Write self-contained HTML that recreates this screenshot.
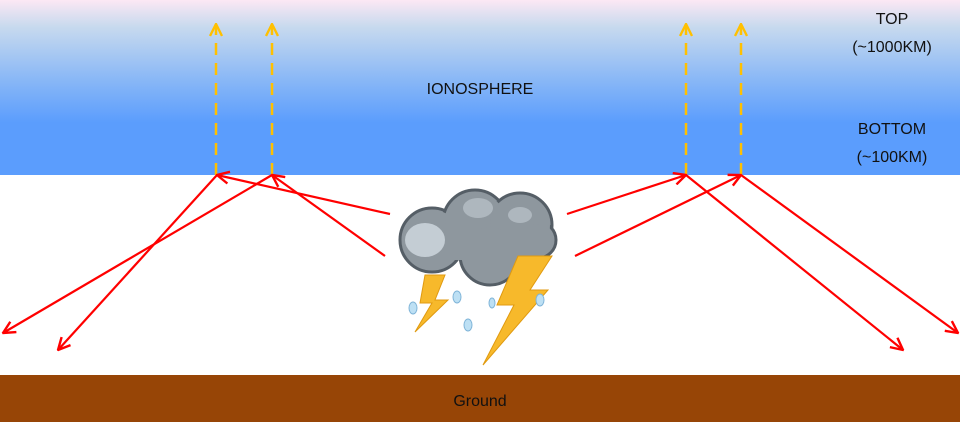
<!DOCTYPE html>
<html><head><style>
body{margin:0;width:960px;height:422px;overflow:hidden;background:#fff;font-family:"Liberation Sans",sans-serif}
</style></head><body>
<svg width="960" height="422" viewBox="0 0 960 422" xmlns="http://www.w3.org/2000/svg">
<defs>
<linearGradient id="sky" x1="0" y1="0" x2="0" y2="1">
<stop offset="0" stop-color="#fce8f4"/>
<stop offset="0.15" stop-color="#c8daee"/>
<stop offset="0.45" stop-color="#8ab8f6"/>
<stop offset="0.7" stop-color="#5b9dfd"/>
<stop offset="1" stop-color="#5b9dfd"/>
</linearGradient>
<marker id="ar" viewBox="0 0 14 14" refX="13" refY="7" markerWidth="14" markerHeight="14" markerUnits="userSpaceOnUse" orient="auto">
<path d="M1,1 L13,7 L1,13" fill="none" stroke="#f00" stroke-width="2.4"/></marker>
<marker id="ao" viewBox="0 0 14 14" refX="13" refY="7" markerWidth="14" markerHeight="14" markerUnits="userSpaceOnUse" orient="auto">
<path d="M1,1 L13,7 L1,13" fill="none" stroke="#ffc000" stroke-width="2.4"/></marker>
</defs>
<rect x="0" y="0" width="960" height="175" fill="url(#sky)"/>
<rect x="0" y="375" width="960" height="47" fill="#974506"/>
<g font-size="16" text-anchor="middle" fill="#111" textLength="">
<text x="480" y="406">Ground</text>
<text x="480" y="94">IONOSPHERE</text>
<text x="892" y="24">TOP</text>
<text x="892" y="52">(~1000KM)</text>
<text x="892" y="134">BOTTOM</text>
<text x="892" y="162">(~100KM)</text>
</g>
<g stroke="#ffc000" stroke-width="2.5" stroke-dasharray="12,8" marker-end="url(#ao)">
<line x1="216" y1="175" x2="216" y2="24"/>
<line x1="272" y1="175" x2="272" y2="24"/>
<line x1="686" y1="175" x2="686" y2="24"/>
<line x1="741" y1="175" x2="741" y2="24"/>
</g>
<g stroke="#f00" stroke-width="2.2" marker-end="url(#ar)">
<line x1="390" y1="214" x2="217" y2="175"/>
<line x1="217" y1="175" x2="58" y2="350"/>
<line x1="385" y1="256" x2="272" y2="175"/>
<line x1="272" y1="175" x2="3" y2="333"/>
<line x1="567" y1="214" x2="686" y2="175"/>
<line x1="686" y1="175" x2="903" y2="350"/>
<line x1="575" y1="256" x2="741" y2="175"/>
<line x1="741" y1="175" x2="958" y2="333"/>
</g>
<g stroke="#555e66" stroke-width="3">
<circle cx="432" cy="240" r="32" fill="#8e979e"/>
<circle cx="475" cy="222" r="32" fill="#8e979e"/>
<circle cx="520" cy="225" r="32" fill="#8e979e"/>
<circle cx="538" cy="240" r="18" fill="#8e979e"/>
<circle cx="490" cy="255" r="30" fill="#8e979e"/>
</g>
<g fill="#8e979e">
<circle cx="432" cy="240" r="30"/><circle cx="475" cy="222" r="30"/><circle cx="520" cy="225" r="30"/><circle cx="538" cy="240" r="16"/><circle cx="490" cy="255" r="28"/>
<rect x="420" y="230" width="120" height="30"/>
</g>
<ellipse cx="425" cy="240" rx="20" ry="17" fill="#c4cdd4"/>
<ellipse cx="478" cy="208" rx="15" ry="10" fill="#aeb7be"/>
<ellipse cx="520" cy="215" rx="12" ry="8" fill="#aeb7be"/>
<polygon points="425,275 445,275 435,300 448,300 415,332 432,303 420,303" fill="#f7b92b" stroke="#e09a10"/>
<polygon points="518,256 552,256 530,290 548,290 483,365 514,305 497,305" fill="#f7b92b" stroke="#e09a10"/>
<g fill="#bde0f4" stroke="#7fb4d8">
<ellipse cx="413" cy="308" rx="4" ry="6"/><ellipse cx="457" cy="297" rx="4" ry="6"/>
<ellipse cx="468" cy="325" rx="4" ry="6"/><ellipse cx="492" cy="303" rx="3" ry="5"/><ellipse cx="540" cy="300" rx="4" ry="6"/>
</g>
</svg>
</body></html>
